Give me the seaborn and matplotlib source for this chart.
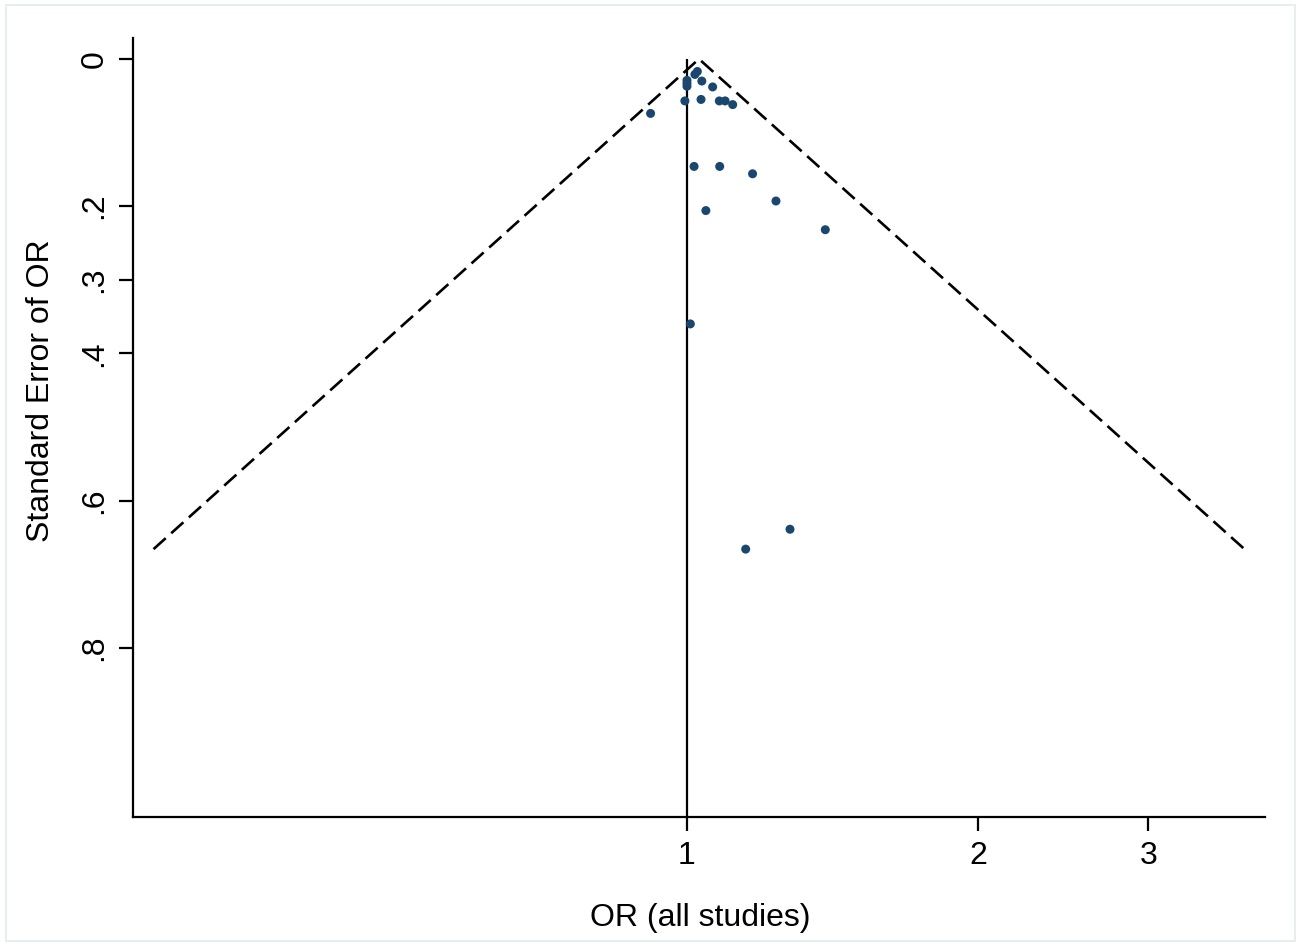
import numpy as np
import pandas as pd
import matplotlib
matplotlib.use("Agg")
import matplotlib.pyplot as plt
import seaborn as sns
from matplotlib.ticker import FixedLocator, FixedFormatter, NullLocator

# ---- data ----
odds_ratio = [1.025, 1.019, 1.000, 1.000, 1.000, 1.036, 1.063, 0.995, 1.034, 1.080,
              1.095, 1.115, 0.917, 1.017, 1.081, 1.169, 1.046, 1.236, 1.390, 1.008,
              1.278, 1.150]
std_error = [0.017, 0.021, 0.029, 0.033, 0.037, 0.030, 0.038, 0.057, 0.055, 0.057,
             0.057, 0.062, 0.074, 0.146, 0.146, 0.156, 0.206, 0.193, 0.232, 0.360,
             0.639, 0.666]
pooled_or = 1.029
funnel_max_se = 0.666
x_ticks = [1, 2, 3]
x_tick_labels = ["1", "2", "3"]
y_ticks = [0, 0.2, 0.3, 0.4, 0.6, 0.8]
y_tick_labels = ["0", ".2", ".3", ".4", ".6", ".8"]

df = pd.DataFrame({"OR": odds_ratio, "SE": std_error})

sns.set_theme(style="white")
plt.rcParams["font.family"] = ["Liberation Sans", "DejaVu Sans"]

fig = plt.figure(figsize=(12.97, 9.43), dpi=100)
fig.patch.set_facecolor("white")
# faint outer border
fig.add_artist(plt.Rectangle((6 / 1297, 1 - 941 / 943), 1289 / 1297, 936 / 943,
                             transform=fig.transFigure, fill=False,
                             edgecolor="#e6eef2", linewidth=1.5))
ax = fig.add_axes([133 / 1297, 1 - 817 / 943, (1265 - 133) / 1297, (817 - 38) / 943])

# funnel (pseudo 95% limits)
z = 1.95
se_line = np.array([funnel_max_se, 0.0, funnel_max_se])
lo = np.exp(np.log(pooled_or) - z * funnel_max_se)
hi = np.exp(np.log(pooled_or) + z * funnel_max_se)
x_line = np.array([lo, pooled_or, hi])
ax.plot(x_line, se_line, color="black", linewidth=1.9, linestyle=(0, (6.2, 2.8)))

# null line
ax.vlines(1, 0, 1.03, color="black", linewidth=1.6, zorder=2)

sns.scatterplot(data=df, x="OR", y="SE", ax=ax, color="#1a476f", s=42,
                edgecolor="none", zorder=3, legend=False)

ax.set_xscale("log")
ax.set_xlim(0.2674, 3.96)
ax.set_ylim(1.030, -0.0285)

ax.xaxis.set_major_locator(FixedLocator(x_ticks))
ax.xaxis.set_major_formatter(FixedFormatter(x_tick_labels))
ax.xaxis.set_minor_locator(NullLocator())
ax.yaxis.set_major_locator(FixedLocator(y_ticks))
ax.yaxis.set_major_formatter(FixedFormatter(y_tick_labels))

ax.tick_params(axis="both", which="major", direction="out", length=10, width=1.6,
               labelsize=23, colors="black", bottom=True, left=True)
ax.tick_params(axis="y", labelrotation=90, pad=7)
ax.tick_params(axis="x", pad=7)
for lbl in ax.get_yticklabels():
    lbl.set_va("center")

for side in ["top", "right"]:
    ax.spines[side].set_visible(False)
for side in ["left", "bottom"]:
    ax.spines[side].set_color("black")
    ax.spines[side].set_linewidth(1.6)

ax.set_xlabel("OR (all studies)", fontsize=23, color="black")
ax.set_ylabel("Standard Error of OR", fontsize=23, color="black")
ax.xaxis.set_label_coords((700 - 133) / (1265 - 133), -(918 - 817) / 779)
ax.yaxis.set_label_coords(-(133 - 41) / (1265 - 133), (817 - 391) / 779)
ax.xaxis.label.set_va("center")
ax.yaxis.label.set_va("center")
ax.grid(False)

fig.savefig("out.png", dpi=100, facecolor="white")
